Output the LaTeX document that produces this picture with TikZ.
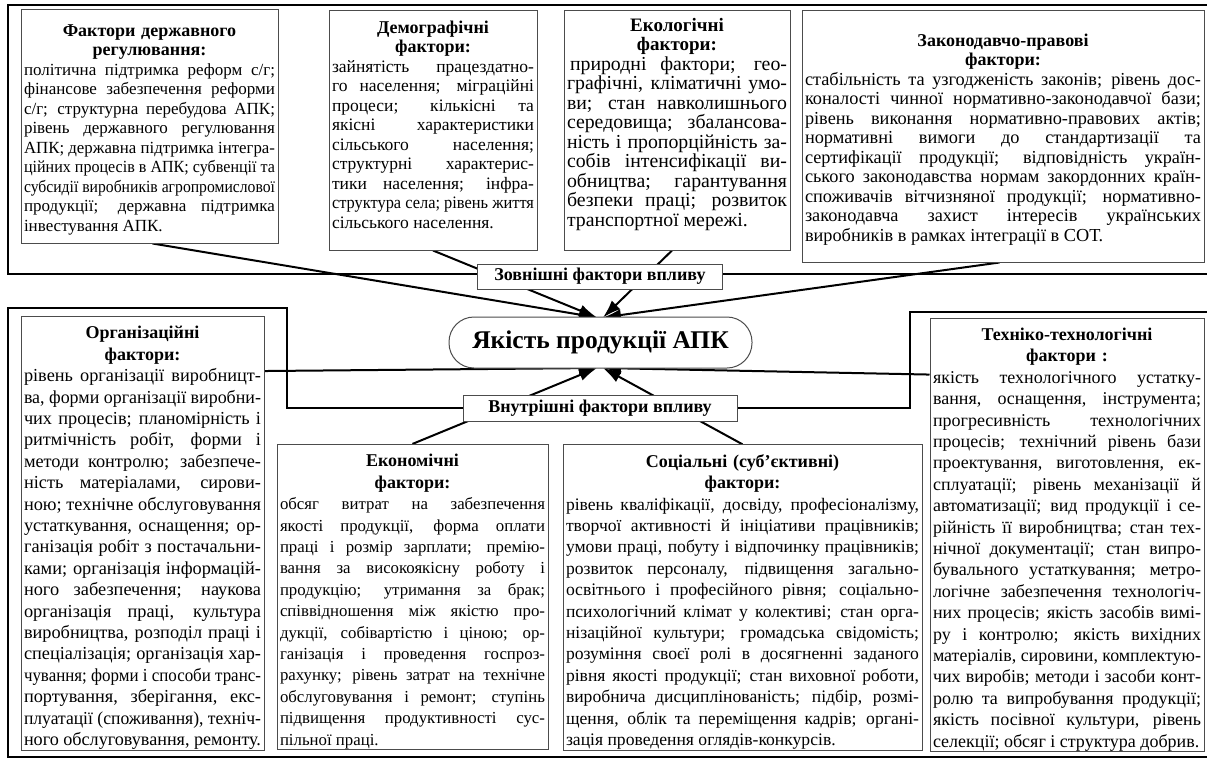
\documentclass[tikz,border=0pt]{standalone}
\usepackage{fontspec}
\setmainfont{Liberation Serif}
\usepackage{graphicx}
\usetikzlibrary{arrows.meta,calc}
\pgfdeclarelayer{bg}
\pgfsetlayers{bg,main}
\newsavebox\lnb
\newdimen\LW
\newcommand\JL[1]{\par\noindent\spaceskip=0pt\xspaceskip=0pt\LW=\hsize\sbox\lnb{#1}\ifdim\wd\lnb>\LW\resizebox{\LW}{\height}{\usebox\lnb}\else\makebox[\LW][s]{#1}\fi\par}
\newcommand\LL[1]{\par\noindent\spaceskip=0pt\xspaceskip=0pt\LW=\hsize\sbox\lnb{#1}\ifdim\wd\lnb>\LW\resizebox{\LW}{\height}{\usebox\lnb}\else\usebox\lnb\fi\par}
\newcommand\tsz{18}
\newcommand\TL[1]{\par\noindent\makebox[\hsize]{\bfseries\fontsize{\tsz}{18}\selectfont #1}\par}
\newcommand\fsz[2]{\fontsize{#1}{#2}\selectfont}
\newcommand\padend[1]{\par\nointerlineskip\vbox to #1{}}
\tikzset{
  frm/.style={line width=2.6pt},
  fbx/.style={draw=black!70, line width=1pt, fill=white, inner xsep=3pt, inner ysep=1pt},
  lbl/.style={draw=black!70, line width=1pt, fill=white, font=\fsz{18}{20}\bfseries, inner sep=0pt},
  con/.style={line width=2pt},
  arr/.style={con, -{Latex[length=18pt,width=12pt]}},
}
\begin{document}
\begin{tikzpicture}[x=1pt,y=-1pt]
\useasboundingbox (0,0) rectangle (1207,761);

% top boxes
\node[fbx, font={\fsz{17}{19.5}}, text width=251pt, minimum height=234pt] (b1) at (149.5,126) {%
\TL{Фактори державного}
\TL{регулювання:}
\JL{політична підтримка реформ с/г;}
\JL{фінансове забезпечення реформи}
\JL{с/г; структурна перебудова АПК;}
\JL{рівень державного регулювання}
\JL{АПК; державна підтримка інтегра-}
\JL{ційних процесів в АПК; субвенції та}
\JL{субсидії виробників агропромислової}
\JL{продукції; державна підтримка}
\LL{інвестування АПК.}};

\node[fbx, font={\fsz{17.5}{19.5}}, text width=202pt, minimum height=240pt] (b2) at (433,130) {%
\TL{Демографічні}
\TL{фактори:}
\JL{зайнятість працездатно-}
\JL{го населення; міграційні}
\JL{процеси; кількісні та}
\JL{якісні характеристики}
\JL{сільського населення;}
\JL{структурні характерис-}
\JL{тики населення; інфра-}
\JL{структура села; рівень життя}
\LL{сільського населення.}
\padend{18pt}};

\node[fbx, font={\fsz{19.8}{19.5}}, text width=220pt, minimum height=240pt] (b3) at (677,130) {%
\renewcommand\tsz{19}%
\TL{Екологічні}
\TL{фактори:}
\JL{\hspace{3pt}природні фактори; гео-}
\JL{графічні, кліматичні умо-}
\JL{ви; стан навколишнього}
\JL{середовища; збалансова-}
\JL{ність і пропорційність за-}
\JL{собів інтенсифікації ви-}
\JL{обництва; гарантування}
\JL{безпеки праці; розвиток}
\LL{транспортної мережі.}
\padend{18pt}};

\node[fbx, font={\fsz{18.3}{19.5}}, text width=396pt, minimum height=252pt] (b4) at (1003,136) {%
\TL{Законодавчо-правові}
\TL{фактори:}
\JL{стабільність та узгодженість законів; рівень дос-}
\JL{коналості чинної нормативно-законодавчої бази;}
\JL{рівень виконання нормативно-правових актів;}
\JL{нормативні вимоги до стандартизації та}
\JL{сертифікації продукції; відповідність україн-}
\JL{ського законодавства нормам закордонних країн-}
\JL{споживачів вітчизняної продукції; нормативно-}
\JL{законодавча захист інтересів українських}
\LL{виробників в рамках інтеграції в СОТ.}};

% labels and centre
\node[lbl, minimum width=245pt, minimum height=25pt] (l1) at (600,276.5) {Зовнішні фактори впливу};
\node[lbl, minimum width=274pt, minimum height=26pt] (l2) at (600,408) {Внутрішні фактори впливу};
\node[draw=black!70, line width=1pt, fill=white, rounded corners=25pt, minimum width=303pt, minimum height=51pt, inner sep=0pt, font={\fsz{25.5}{30}\bfseries}] (c) at (600.5,342.5) {Якість продукції АПК};

% bottom boxes
\node[fbx, font={\fsz{18.3}{21.4}}, text width=237pt, minimum height=431pt] (b5) at (142.5,533.5) {%
\TL{Організаційні}
\TL{фактори:}
\JL{рівень організації виробницт-}
\JL{ва, форми організації виробни-}
\JL{чих процесів; планомірність і}
\JL{ритмічність робіт, форми і}
\JL{методи контролю; забезпече-}
\JL{ність матеріалами, сирови-}
\JL{ною; технічне обслуговування}
\JL{устаткування, оснащення; ор-}
\JL{ганізація робіт з постачальни-}
\JL{ками; організація інформацій-}
\JL{ного забезпечення; наукова}
\JL{організація праці, культура}
\JL{виробництва, розподіл праці і}
\JL{спеціалізація; організація хар-}
\JL{чування; форми і способи транс-}
\JL{портування, зберігання, екс-}
\JL{плуатації (споживання), техніч-}
\LL{ного обслуговування, ремонту.}};

\node[fbx, font={\fsz{16.8}{21.4}}, text width=265pt, minimum height=304pt] (b6) at (412.5,597) {%
\TL{Економічні}
\TL{фактори:}
\JL{обсяг витрат на забезпечення}
\JL{якості продукції, форма оплати}
\JL{праці і розмір зарплати; премію-}
\JL{вання за високоякісну роботу і}
\JL{продукцію; утримання за брак;}
\JL{співвідношення між якістю про-}
\JL{дукції, собівартістю і ціною; ор-}
\JL{ганізація і проведення госпроз-}
\JL{рахунку; рівень затрат на технічне}
\JL{обслуговування і ремонт; ступінь}
\JL{підвищення продуктивності сус-}
\LL{пільної праці.}};

\node[fbx, font={\fsz{17.6}{21.4}}, text width=353pt, minimum height=305pt] (b7) at (742.5,597.5) {%
\TL{Соціальні (суб’єктивні)}
\TL{фактори:}
\JL{рівень кваліфікації, досвіду, професіоналізму,}
\JL{творчої активності й ініціативи працівників;}
\JL{умови праці, побуту і відпочинку працівників;}
\JL{розвиток персоналу, підвищення загально-}
\JL{освітнього і професійного рівня; соціально-}
\JL{психологічний клімат у колективі; стан орга-}
\JL{нізаційної культури; громадська свідомість;}
\JL{розуміння своєї ролі в досягненні заданого}
\JL{рівня якості продукції; стан виховної роботи,}
\JL{виробнича дисциплінованість; підбір, розмі-}
\JL{щення, облік та переміщення кадрів; органі-}
\LL{зація проведення оглядів-конкурсів.}};

\node[fbx, font={\fsz{18}{21.4}}, text width=268pt, minimum height=430pt] (b8) at (1067,535) {%
\TL{Техніко-технологічні}
\TL{фактори :}
\JL{якість технологічного устатку-}
\JL{вання, оснащення, інструмента;}
\JL{прогресивність технологічних}
\JL{процесів; технічний рівень бази}
\JL{проектування, виготовлення, ек-}
\JL{сплуатації; рівень механізації й}
\JL{автоматизації; вид продукції і се-}
\JL{рійність її виробництва; стан тех-}
\JL{нічної документації; стан випро-}
\JL{бувального устаткування; метро-}
\JL{логічне забезпечення технологіч-}
\JL{них процесів; якість засобів вимі-}
\JL{ру і контролю; якість вихідних}
\JL{матеріалів, сировини, комплектую-}
\JL{чих виробів; методи і засоби конт-}
\JL{ролю та випробування продукції;}
\JL{якість посівної культури, рівень}
\LL{селекції; обсяг і структура добрив.}};

\coordinate (tl) at (597,317.5);
\coordinate (tr) at (603,317.5);
\coordinate (bl) at (597,368);
\coordinate (br) at (603,368);

\begin{pgfonlayer}{bg}
\fill[white] (0,0) rectangle (1207,761);
\draw[frm] (1212,5) -- (8,5) -- (8,274) -- (1212,274);
\draw[frm] (1212,312) -- (910,312) -- (910,408) -- (l2.east);
\draw[frm] (l2.west) -- (287,408) -- (287,308) -- (8,308) -- (8,757) -- (1212,757);
\draw[arr] ([xshift=132pt]b1.south west) -- (tl);
\draw[arr] (b2.south) -- (tl);
\draw[arr] ([xshift=-5pt]b3.south) -- (tr);
\draw[arr] ([xshift=198pt]b4.south west) -- (tr);
\draw[arr] ([yshift=-55pt]b5.north east) -- (bl);
\draw[arr] ([xshift=136pt]b6.north west) -- (bl);
\draw[arr] ([xshift=180pt]b7.north west) -- (br);
\draw[arr] ([yshift=-57pt]b8.north west) -- (br);
\end{pgfonlayer}
\end{tikzpicture}
\end{document}
